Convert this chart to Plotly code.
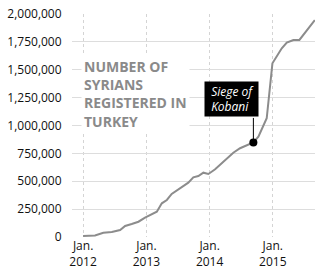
import plotly.graph_objects as go

dates = [
    "2012-01-01", "2012-03-10", "2012-04-27", "2012-06-15", "2012-08-02",
    "2012-08-31", "2012-10-08", "2012-11-16", "2012-12-24", "2013-01-22",
    "2013-03-02", "2013-03-31", "2013-04-29", "2013-05-27", "2013-07-14",
    "2013-08-31", "2013-09-29", "2013-10-28", "2013-11-26", "2013-12-25",
    "2014-02-02", "2014-03-12", "2014-04-19", "2014-05-18", "2014-06-26",
    "2014-08-04", "2014-09-11", "2014-10-10", "2014-11-27", "2014-12-30",
    "2015-01-24", "2015-02-22", "2015-03-23", "2015-04-30", "2015-06-04",
    "2015-07-16", "2015-09-01",
]
registered = [
    10000, 13000, 38000, 45000, 63000,
    99000, 117000, 137000, 173000, 197000,
    227000, 302000, 332000, 386000, 437000,
    487000, 535000, 547000, 577000, 565000,
    607000, 661000, 720000, 756000, 796000,
    825000, 848000, 900000, 1065000, 1558000,
    1617000, 1692000, 1743000, 1767000, 1767000,
    1848000, 1946000,
]

kobani_date = "2014-09-11"
kobani_value = 848000
kobani_label = "&nbsp;<i>Siege of</i>&nbsp;<br>&nbsp;<i>Kobani</i>"

title_text = "NUMBER OF<br>SYRIANS<br>REGISTERED IN<br>TURKEY"

x_tickvals = ["2012-01-01", "2013-01-01", "2014-01-01", "2015-01-01"]
x_ticktext = ["Jan.<br>2012", "Jan.<br>2013", "Jan.<br>2014", "Jan.<br>2015"]
y_tickvals = [0, 250000, 500000, 750000, 1000000, 1250000, 1500000, 1750000, 2000000]
y_ticktext = ["0", "250,000", "500,000", "750,000", "1,000,000", "1,250,000",
              "1,500,000", "1,750,000", "2,000,000"]

FONT = "Open Sans"

fig = go.Figure()
fig.add_trace(go.Scatter(
    x=dates, y=registered, mode="lines",
    line=dict(color="#8c8c8c", width=2),
    hoverinfo="skip", showlegend=False,
))
fig.add_trace(go.Scatter(
    x=[kobani_date], y=[kobani_value], mode="markers",
    marker=dict(color="black", size=8),
    hoverinfo="skip", showlegend=False,
))

# title block with white background covering gridlines
fig.add_annotation(
    xref="paper", yref="paper", x=0.035, y=0.822,
    xanchor="left", yanchor="top", showarrow=False,
    text=title_text, align="left",
    font=dict(family=FONT, size=14, color="#8a8a8a", weight="bold"),
    bgcolor="white", borderpad=2,
)

# arrow line from Kobani point up to the label box
fig.add_annotation(
    x=kobani_date, y=kobani_value, xref="x", yref="y",
    text="", showarrow=True, arrowhead=0, arrowwidth=1,
    arrowcolor="black", ax=0, ay=-26, standoff=0,
)
# Kobani label box
fig.add_annotation(
    x=kobani_date, y=kobani_value, xref="x", yref="y",
    text=kobani_label, showarrow=False, align="left",
    xanchor="right", yanchor="bottom", xshift=6, yshift=25,
    font=dict(family=FONT, size=12, color="white"),
    bgcolor="black", borderpad=3, height=28,
)

fig.update_layout(
    width=322, height=277,
    margin=dict(l=72, r=7, t=14, b=40),
    paper_bgcolor="white", plot_bgcolor="white",
    font=dict(family=FONT, size=12, color="#111111"),
    xaxis=dict(
        type="date", range=["2011-10-29", "2015-09-02"],
        tickvals=x_tickvals, ticktext=x_ticktext,
        showgrid=True, gridcolor="#d4d4d4", griddash="dot", gridwidth=1,
        zeroline=False, showline=False, ticks="", automargin=False,
        tickfont=dict(family=FONT, size=12, color="#111111"),
    ),
    yaxis=dict(
        range=[0, 2000000],
        tickvals=y_tickvals, ticktext=y_ticktext,
        showgrid=True, gridcolor="#dddddd", gridwidth=1,
        zeroline=False, showline=False, automargin=False,
        ticks="outside", ticklen=7, tickcolor="rgba(0,0,0,0)",
        tickfont=dict(family=FONT, size=12, color="#111111"),
    ),
)

# remove the default page margin so the figure sits at the window's corner
fig.write_html(
    "out.html",
    config={"displayModeBar": False},
    post_script="document.body.style.margin='0';document.body.style.overflow='hidden';",
)
